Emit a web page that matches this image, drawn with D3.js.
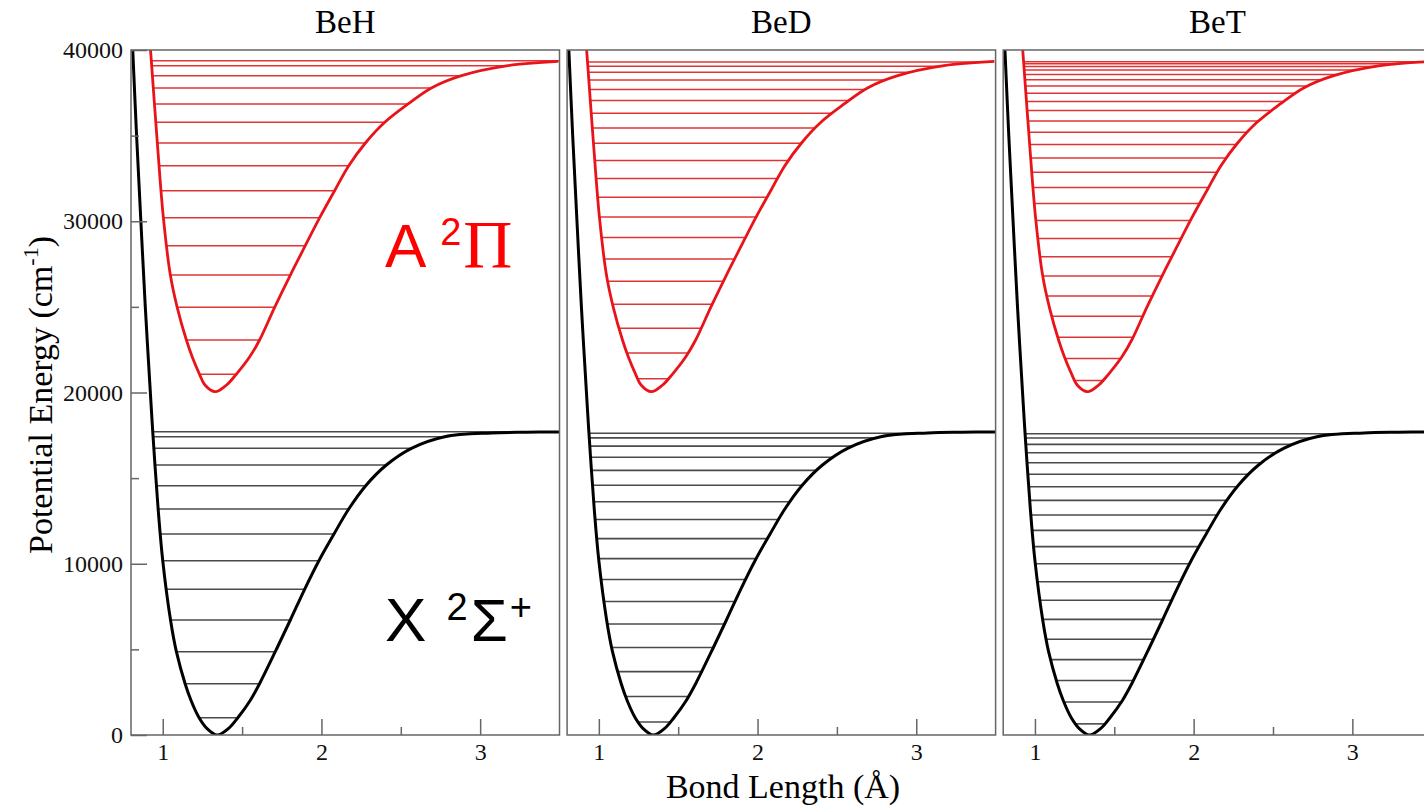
<!DOCTYPE html>
<html>
<head>
<meta charset="utf-8">
<script src="https://cdn.jsdelivr.net/npm/d3@7"></script>
<style>
  body { margin: 0; background: #fff; }
</style>
</head>
<body>
<div id="chart"></div>
<script>
var molecules = ["BeH", "BeD", "BeT"];

// X 2Sigma+ potential curve (bond length in A, energy in cm-1)
var xStateR = [0.811, 0.835, 0.862, 0.890, 0.926, 0.937, 0.951, 0.971, 1.000, 1.049, 1.086, 1.141, 1.179, 1.229, 1.278, 1.343,
               1.415, 1.473, 1.550, 1.610, 1.709, 1.804, 1.894, 1.984, 2.079, 2.172, 2.279, 2.409, 2.567, 2.777, 3.072, 3.290, 3.503];
var xStateE = [40000, 35036, 30032, 25011, 19370, 17711, 15766, 13197, 10178, 6715, 4864, 2996, 2003, 1010, 390, 0,
               390, 1010, 2003, 2996, 4864, 6715, 8508, 10178, 11737, 13197, 14558, 15766, 16741, 17419, 17640, 17680, 17695];

// A 2Pi potential curve
var aStateR = [0.923, 0.928, 0.966, 1.004, 1.048, 1.091, 1.149, 1.186, 1.232, 1.266, 1.331,
               1.402, 1.463, 1.547, 1.610, 1.705, 1.804, 1.898, 1.989, 2.083, 2.172, 2.277, 2.399, 2.546, 2.693, 2.883, 3.175, 3.492];
var aStateE = [40000, 39375, 34569, 30207, 26861, 24975, 23066, 22073, 21063, 20440, 20047,
               20440, 21063, 22073, 23066, 24975, 26861, 28572, 30207, 31784, 33244, 34569, 35778, 36847, 37781, 38499, 39083, 39330];

// vibrational levels (cm-1)
var behX = [1010, 2996, 4864, 6715, 8508, 10178, 11737, 13197, 14558, 15766, 16741, 17419, 17711];
var behA = [21063, 23066, 24975, 26861, 28572, 30207, 31784, 33244, 34569, 35778, 36847, 37781, 38499, 39083, 39375];
var bedX = [760, 2250, 3700, 5110, 6480, 7800, 9080, 10300, 11470, 12580, 13620, 14580, 15450, 16220, 16870, 17350, 17620];
var bedA = [20800, 22300, 23750, 25150, 26500, 27800, 29050, 30250, 31400, 32500, 33550, 34550, 35450, 36300,
            37050, 37700, 38250, 38700, 39050, 39300];
var betX = [650, 1930, 3180, 4400, 5590, 6750, 7870, 8950, 10000, 11000, 11950, 12850, 13700, 14500, 15230,
            15900, 16480, 16970, 17340, 17590];
var betA = [20700, 21980, 23230, 24450, 25640, 26800, 27920, 29000, 30040, 31030, 31970, 32860, 33700, 34480,
            35200, 35860, 36460, 37000, 37480, 37900, 38260, 38570, 38830, 39040, 39200, 39310];

var levelsX = [behX, bedX, betX];
var levelsA = [behA, bedA, betA];

var yTicks = [0, 10000, 20000, 30000, 40000];
var yMinor = [5000, 15000, 25000, 35000];
var xTicks = [1, 2, 3];
var xMinor = [1.5, 2.5];

var margin = { top: 50, left: 131 },
    pw = 428.5, ph = 685, gap = 7.6;

var svg = d3.select("#chart").append("svg")
    .attr("width", 1424)
    .attr("height", 807);

var xscale = d3.scaleLinear().domain([0.8, 3.5]).range([0, pw]);
var yscale = d3.scaleLinear().domain([0, 40000]).range([ph, 0]);

var line = d3.line()
    .x(function (d) { return xscale(d[0]); })
    .y(function (d) { return yscale(d[1]); })
    .curve(d3.curveCatmullRom.alpha(0.5));

var xPts = xStateR.map(function (r, i) { return [r, xStateE[i]]; });
var aPts = aStateR.map(function (r, i) { return [r, aStateE[i]]; });

// sample a drawn path and find where a horizontal level meets both walls
function sample(node) {
    var len = node.getTotalLength(), pts = [];
    for (var s = 0; s <= len; s += 0.5) {
        var p = node.getPointAtLength(s);
        pts.push([p.x, p.y]);
    }
    return pts;
}
function turning(pts, y) {
    var imin = 0;
    pts.forEach(function (p, i) { if (p[1] > pts[imin][1]) imin = i; });
    var xl = 0, xr = pw;
    for (var i = 0; i < imin; i++) {
        if (pts[i][1] <= y && pts[i + 1][1] >= y) {
            var t = (y - pts[i][1]) / (pts[i + 1][1] - pts[i][1] || 1);
            xl = pts[i][0] + t * (pts[i + 1][0] - pts[i][0]);
            break;
        }
    }
    for (var j = imin; j < pts.length - 1; j++) {
        if (pts[j][1] >= y && pts[j + 1][1] <= y) {
            var u = (y - pts[j][1]) / (pts[j + 1][1] - pts[j][1] || 1);
            xr = pts[j][0] + u * (pts[j + 1][0] - pts[j][0]);
            break;
        }
    }
    return [xl, xr];
}

molecules.forEach(function (name, k) {
    var g = svg.append("g")
        .attr("transform", "translate(" + (margin.left + k * (pw + gap)) + "," + margin.top + ")");

    g.append("clipPath").attr("id", "clip" + k)
        .append("rect").attr("width", pw).attr("height", ph);

    var plot = g.append("g").attr("clip-path", "url(#clip" + k + ")");

    var pathX = plot.append("path").datum(xPts)
        .attr("d", line).attr("fill", "none")
        .attr("stroke", "#000").attr("stroke-width", 3);
    var pathA = plot.append("path").datum(aPts)
        .attr("d", line).attr("fill", "none")
        .attr("stroke", "#e8141a").attr("stroke-width", 2.8);

    var sx = sample(pathX.node()), sa = sample(pathA.node());

    plot.selectAll(".lvX").data(levelsX[k]).enter().insert("line", "path")
        .attr("x1", function (d) { return turning(sx, yscale(d))[0]; })
        .attr("x2", function (d) { return turning(sx, yscale(d))[1]; })
        .attr("y1", function (d) { return yscale(d); })
        .attr("y2", function (d) { return yscale(d); })
        .attr("stroke", "#4a4a4a").attr("stroke-width", 1.6);

    plot.selectAll(".lvA").data(levelsA[k]).enter().insert("line", "path")
        .attr("x1", function (d) { return turning(sa, yscale(d))[0]; })
        .attr("x2", function (d) { return turning(sa, yscale(d))[1]; })
        .attr("y1", function (d) { return yscale(d); })
        .attr("y2", function (d) { return yscale(d); })
        .attr("stroke", "#e03434").attr("stroke-width", 1.5);

    // frame
    g.append("rect").attr("width", pw).attr("height", ph)
        .attr("fill", "none").attr("stroke", "#666").attr("stroke-width", 1.5);

    // x axis, ticks pointing inwards
    g.append("g").attr("transform", "translate(0," + ph + ")")
        .call(d3.axisBottom(xscale).tickValues(xTicks).tickSize(-16).tickPadding(8).tickFormat(d3.format("d")));
    g.append("g").attr("transform", "translate(0," + ph + ")")
        .call(d3.axisBottom(xscale).tickValues(xMinor).tickSize(-8).tickFormat(""));

    if (k === 0) {
        g.append("g")
            .call(d3.axisLeft(yscale).tickValues(yTicks).tickSize(-16).tickPadding(8).tickFormat(d3.format("d")));
        g.append("g")
            .call(d3.axisLeft(yscale).tickValues(yMinor).tickSize(-8).tickFormat(""));
    }

    // Title
    g.append("text")
        .attr("x", pw / 2).attr("y", -17)
        .attr("text-anchor", "middle")
        .style("font-family", "Liberation Serif")
        .style("font-size", "33px")
        .text(name);
});

svg.selectAll(".domain").remove();
svg.selectAll(".tick line").attr("stroke", "#666").attr("stroke-width", 1.5);
svg.selectAll(".tick text")
    .style("font-family", "Liberation Serif")
    .style("font-size", "24px")
    .attr("fill", "#111");

// X label
svg.append("text")
    .attr("x", 783).attr("y", 798)
    .attr("text-anchor", "middle")
    .style("font-family", "Liberation Serif")
    .style("font-size", "34px")
    .text("Bond Length (Å)");

// Y label
var yl = svg.append("text")
    .attr("text-anchor", "middle")
    .attr("transform", "translate(52,395)rotate(-90)")
    .style("font-family", "Liberation Serif")
    .style("font-size", "34px");
yl.append("tspan").text("Potential Energy (cm");
yl.append("tspan").attr("dy", -14).style("font-size", "22px").text("-1");
yl.append("tspan").attr("dy", 14).text(")");

// state labels
var aLab = svg.append("text").attr("x", 385).attr("y", 267)
    .attr("fill", "#ff0000").style("font-family", "Liberation Sans").style("font-size", "62px");
aLab.append("tspan").text("A ");
aLab.append("tspan").attr("dy", -22).style("font-size", "38px").text("2");
aLab.append("tspan").attr("dy", 22).attr("dx", 2).style("font-family", "Liberation Serif").style("font-size", "68px").text("Π");

var xLab = svg.append("text").attr("x", 385).attr("y", 641)
    .attr("fill", "#000").style("font-family", "Liberation Sans").style("font-size", "62px");
xLab.append("tspan").text("X ");
xLab.append("tspan").attr("dy", -21).attr("dx", 3).style("font-size", "38px").text("2");
xLab.append("tspan").attr("dy", 21).attr("dx", 3).style("font-size", "60px").text("Σ");
xLab.append("tspan").attr("dy", -21).attr("dx", 2).style("font-size", "38px").text("+");
</script>
</body>
</html>
